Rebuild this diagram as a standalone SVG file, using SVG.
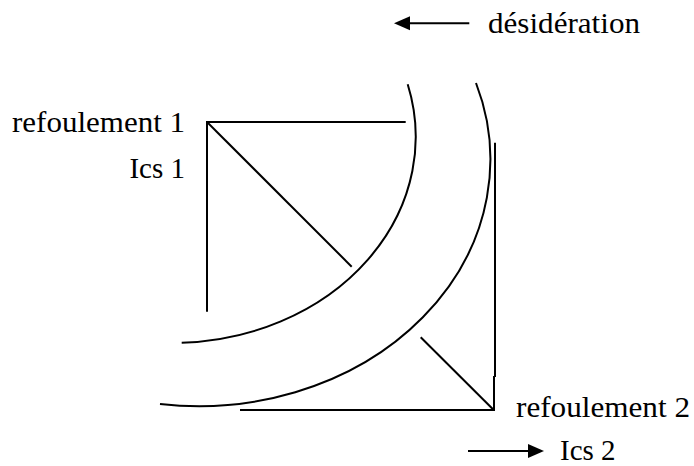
<svg xmlns="http://www.w3.org/2000/svg" width="694" height="466" viewBox="0 0 694 466">
<style>
.ln{fill:none;stroke:#000;stroke-width:2;stroke-linecap:butt}
.hd{fill:#000;stroke:none}
.t{font-family:"Liberation Serif","Times New Roman",serif;font-size:29px;fill:#000}
</style>
<rect width="694" height="466" fill="#fff"/>
<g id="connectors">
<path class="ln" d="M407.7,84.3 A242.7,206 0 0 1 181.7,342.7"/>
<path class="ln" d="M476,83 A291.7,246.7 0 0 1 160,404"/>
<line class="ln" x1="469.3" y1="23.3" x2="408" y2="23.3"/>
<polygon class="hd" points="394,23.3 410,16.3 410,30.3"/>
<line class="ln" x1="468" y1="451" x2="530" y2="451"/>
<polygon class="hd" points="544,451 528,444 528,458"/>
</g>
<g id="triangle1">
<line class="ln" x1="206" y1="122" x2="405.7" y2="122"/>
<line class="ln" x1="207" y1="121" x2="207" y2="311.7"/>
<line class="ln" x1="207" y1="122" x2="351.7" y2="266.7"/>
</g>
<g id="triangle2">
<line class="ln" x1="495" y1="142.7" x2="495" y2="377"/>
<line class="ln" x1="494" y1="376" x2="494" y2="411"/>
<line class="ln" x1="240" y1="410" x2="495" y2="410"/>
<line class="ln" x1="420.7" y1="337.3" x2="494" y2="410.3"/>
</g>
<g id="labels">
<text class="t" x="488" y="33.3" textLength="152" lengthAdjust="spacingAndGlyphs">désidération</text>
<text class="t" x="12" y="132.3" textLength="173" lengthAdjust="spacingAndGlyphs">refoulement 1</text>
<text class="t" x="185" y="177.5" text-anchor="end">Ics 1</text>
<text class="t" x="516" y="417.3" textLength="174" lengthAdjust="spacingAndGlyphs">refoulement 2</text>
<text class="t" x="560" y="460">Ics 2</text>
</g>
</svg>
